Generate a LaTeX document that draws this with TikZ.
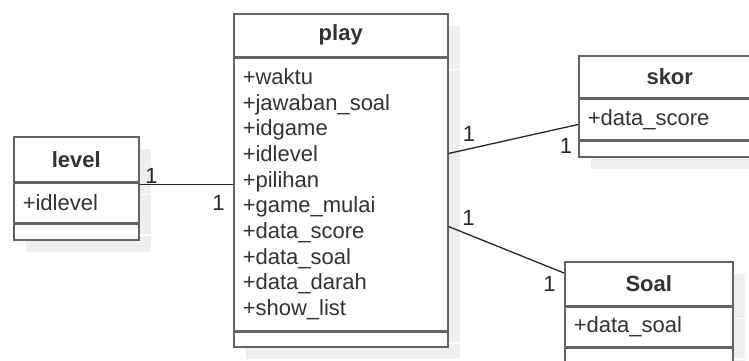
\documentclass[tikz,border=0pt]{standalone}
\usepackage{fontspec}
\setmainfont{Liberation Sans}
\definecolor{boxline}{RGB}{100,100,100}
\definecolor{umltext}{RGB}{51,51,51}
\definecolor{wire}{RGB}{40,40,40}
\definecolor{shade}{RGB}{238,238,238}
\usepackage{tikz}
\usetikzlibrary{positioning, shadows}

\begin{document}
\begin{tikzpicture}[x=1pt, y=-1pt,
    uml/.style={draw=boxline, line width=1.5pt, fill=white, text=umltext,
      inner xsep=9pt, inner ysep=0pt,
      drop shadow={shadow xshift=12pt, shadow yshift=-12pt, fill=shade, opacity=1}},
    classname/.style={uml, anchor=north west, font=\fontsize{22}{26}\selectfont\bfseries},
    members/.style={uml, align=left, font=\fontsize{22}{25.7}\selectfont},
    mult/.style={text=wire, inner sep=0pt, font=\fontsize{22}{22}\selectfont},
    assoc/.style={draw=wire, line width=1.3pt}]
    \useasboundingbox (0,0) rectangle (749,360);

    % class play
    \node[classname, minimum width=214pt, minimum height=43pt] (play) at (233,13) {play};
    \node[members, below right=0pt of play.south west, text width=196pt, minimum height=272pt] (playattr)
      {+waktu\\+jawaban\_soal\\+idgame\\+idlevel\\+pilihan\\+game\_mulai\\+data\_score\\+data\_soal\\+data\_darah\\+show\_list};
    \node[uml, below right=0pt of playattr.south west, minimum width=214pt, minimum height=15pt] (playop) {};

    % class level
    \node[classname, minimum width=125pt, minimum height=45pt] (lvl) at (13,136) {level};
    \node[members, below right=0pt of lvl.south west, text width=107pt, minimum height=39pt] (lvlattr) {+idlevel};
    \node[uml, below right=0pt of lvlattr.south west, minimum width=125pt, minimum height=16pt] (lvlop) {};

    % class skor
    \node[classname, minimum width=182pt, minimum height=42pt] (skor) at (578,55) {skor};
    \node[members, below right=0pt of skor.south west, text width=164pt, minimum height=40pt] (skorattr) {+data\_score};
    \node[uml, below right=0pt of skorattr.south west, minimum width=182pt, minimum height=16pt] (skorop) {};

    % class Soal
    \node[classname, minimum width=168pt, minimum height=44pt] (soal) at (564,261) {Soal};
    \node[members, below right=0pt of soal.south west, text width=150pt, minimum height=39pt] (soalattr) {+data\_soal};
    \node[uml, below right=0pt of soalattr.south west, minimum width=168pt, minimum height=16pt] (soalop) {};

    % associations
    \draw[assoc] ([yshift=-2pt]lvl.south east) --
      node[mult, pos=0, shift={(12,-9)}] {1}
      node[mult, pos=1, shift={(-14.5,18.5)}] {1}
      ([yshift=-2pt]lvl.south east -| play.west);
    \draw[assoc] ([yshift=-96pt]playattr.north east) --
      node[mult, pos=0, shift={(20.5,-19.5)}] {1}
      node[mult, pos=1, shift={(-12,21.7)}] {1}
      ([yshift=-26pt]skorattr.north west);
    \draw[assoc] ([yshift=-169pt]playattr.north east) --
      node[mult, pos=0, shift={(20,-9)}] {1}
      node[mult, pos=1, shift={(-14.5,11.3)}] {1}
      ([yshift=-12pt]soal.north west);
\end{tikzpicture}
\end{document}
